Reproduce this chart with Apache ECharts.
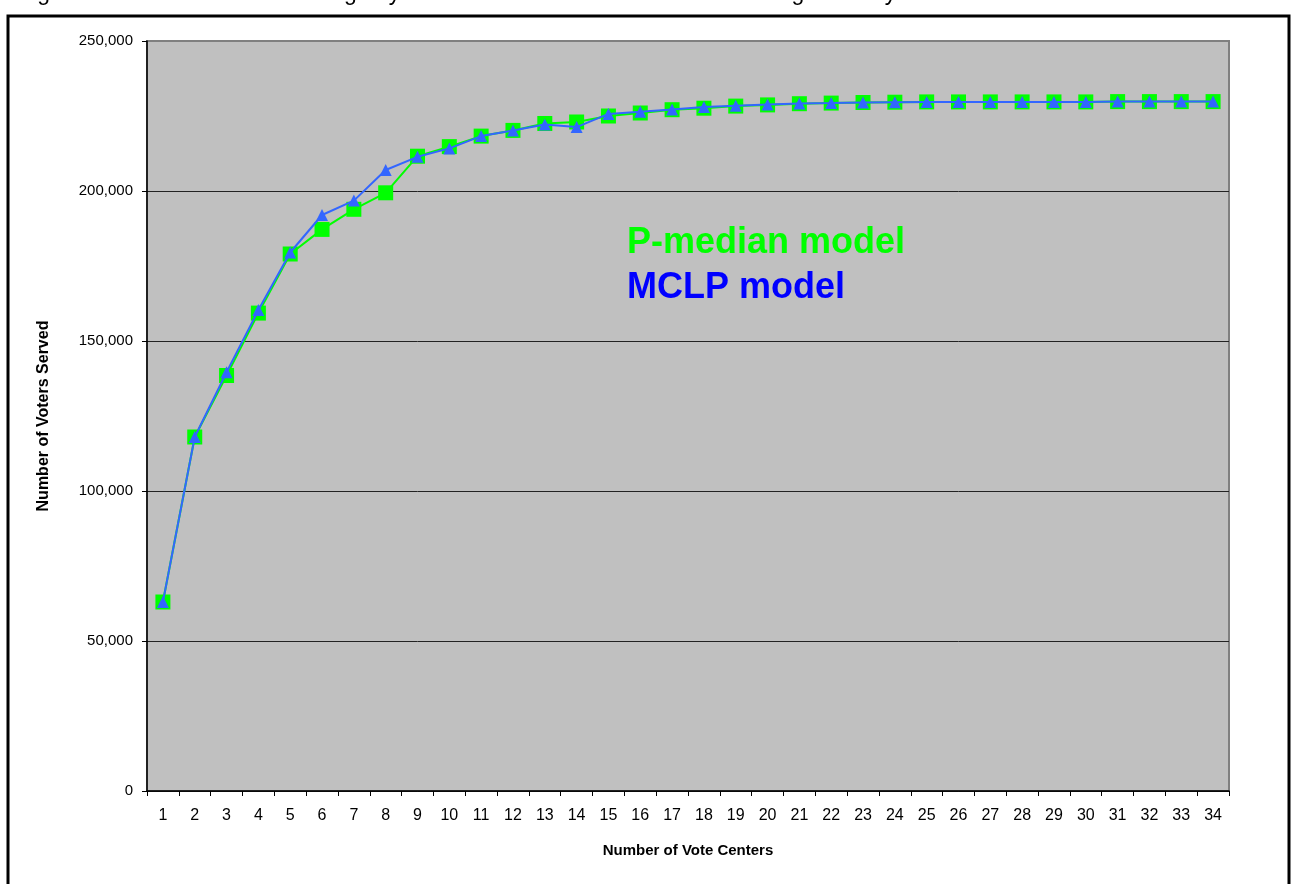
<!DOCTYPE html>
<html>
<head>
<meta charset="utf-8">
<script src="https://cdn.jsdelivr.net/npm/echarts@6/dist/echarts.min.js"></script>
<style>
html,body{margin:0;padding:0;background:#fff;}
#chart{width:1292px;height:884px;}
</style>
</head>
<body>
<div id="chart"></div>
<script>
const categories = ['1','2','3','4','5','6','7','8','9','10','11','12','13','14','15','16','17','18','19','20','21','22','23','24','25','26','27','28','29','30','31','32','33','34'];
const pMedian = [63000,118000,138500,159300,179000,187200,193900,199400,211600,214800,218300,220200,222500,223000,225000,226000,227100,227600,228300,228700,229100,229300,229500,229600,229700,229700,229700,229700,229700,229700,229800,229800,229800,229800];
const mclp = [63000,118000,139600,160300,179500,192000,196800,207000,211400,214200,218300,220200,222200,221300,225700,226400,227200,228000,228400,228800,229200,229300,229500,229600,229700,229700,229700,229700,229700,229700,229800,229800,229800,229800];
const yTicks = [0, 50000, 100000, 150000, 200000, 250000];
const seriesNames = ['P-median model', 'MCLP model'];
const titleText = 'Figure 4.  Total Demand Coverage by P-median and MCLP Models for Orange County';

const chart = echarts.init(document.getElementById('chart'));
const fontFamily = 'Arial, "Liberation Sans", sans-serif';
chart.setOption({
  animation: false,
  backgroundColor: '#ffffff',
  grid: {
    left: 147, top: 41, width: 1082, height: 750,
    show: true, backgroundColor: '#C0C0C0', borderColor: '#808080', borderWidth: 2
  },
  xAxis: {
    type: 'category',
    data: categories,
    boundaryGap: true,
    name: 'Number of Vote Centers',
    nameLocation: 'middle',
    nameGap: 52,
    nameTextStyle: { fontFamily, fontSize: 15, fontWeight: 'bold', color: '#000' },
    axisLine: { lineStyle: { color: '#000', width: 1.5 } },
    axisTick: { show: true, length: 5, lineStyle: { color: '#000' } },
    axisLabel: { fontFamily, fontSize: 16, color: '#000', margin: 17, interval: 0 },
    splitLine: { show: false }
  },
  yAxis: {
    type: 'value',
    min: yTicks[0], max: yTicks[yTicks.length - 1], interval: 50000,
    name: 'Number of Voters Served',
    nameLocation: 'middle',
    nameGap: 95,
    nameTextStyle: { fontFamily, fontSize: 16, fontWeight: 'bold', color: '#000' },
    axisLine: { show: true, lineStyle: { color: '#000', width: 1.5 } },
    axisTick: { show: true, length: 5, lineStyle: { color: '#000' } },
    axisLabel: {
      fontFamily, fontSize: 15, color: '#000', margin: 14,
      formatter: v => v.toLocaleString('en-US')
    },
    splitLine: { show: true, showMaxLine: false, lineStyle: { color: '#222', width: 1 } }
  },
  series: [
    {
      name: seriesNames[0], type: 'line', data: pMedian,
      symbol: 'rect', symbolSize: 15,
      itemStyle: { color: '#00FF00' },
      lineStyle: { color: '#00FF00', width: 2 },
      z: 2
    },
    {
      name: seriesNames[1], type: 'line', data: mclp,
      symbol: 'triangle', symbolSize: 12,
      itemStyle: { color: '#3366FF' },
      lineStyle: { color: '#3366FF', width: 2 },
      z: 3
    }
  ],
  graphic: [
    { type: 'rect', shape: { x: 8, y: 16, width: 1281, height: 900 },
      style: { fill: 'none', stroke: '#000', lineWidth: 3 }, z: 100 },
    { type: 'text', left: 18, top: -18,
      style: { text: titleText, font: '23px ' + fontFamily, fill: '#000' }, z: 100 },
    { type: 'text', left: 627, top: 225,
      style: { text: seriesNames[0], font: 'bold 36px ' + fontFamily, fill: '#00FF00' }, z: 100 },
    { type: 'text', left: 627, top: 270,
      style: { text: seriesNames[1], font: 'bold 36px ' + fontFamily, fill: '#0000FF' }, z: 100 }
  ]
});
</script>
</body>
</html>
